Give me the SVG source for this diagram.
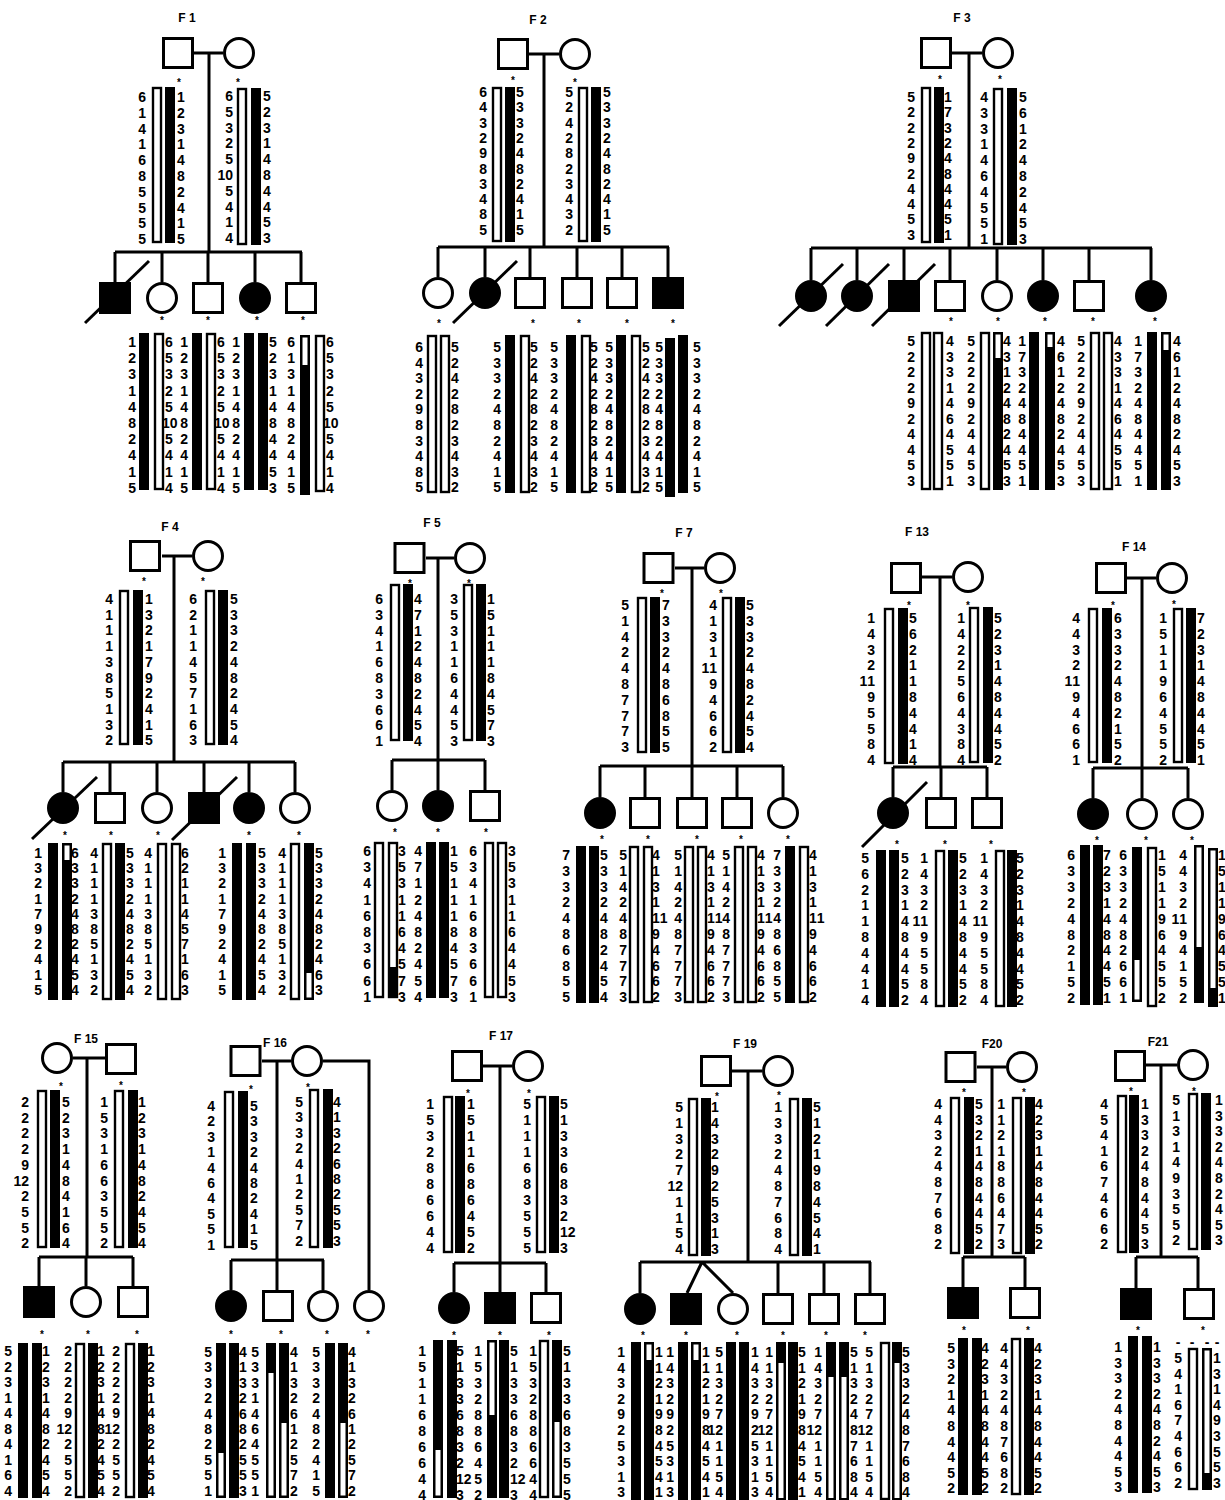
<svg xmlns="http://www.w3.org/2000/svg" width="1225" height="1500" viewBox="0 0 1225 1500">
<style>
text{font-family:"Liberation Sans",Arial,Helvetica,sans-serif;font-weight:bold;font-size:14px;fill:#000}
.e{text-anchor:end}
.t{text-anchor:middle;font-size:12px}
.ts{font-size:12px}
.k{text-anchor:middle;font-size:10px}
.m{text-anchor:middle}
.o{fill:#fff;stroke:#000;stroke-width:2.4}
.f{fill:#000}
.w{fill:#fff}
.s{fill:#fff;stroke:#000;stroke-width:3}
.a{fill:#000;stroke:#000;stroke-width:3}
.l{fill:none;stroke:#000;stroke-width:3}
</style>
<rect width="1225" height="1500" fill="#fff"/>
<g id="connectors">
<path class="l" d="M194 53H223M209 53V252M115 252H302M115 252V282M162 252V282M208 252V282M255 252V282M301 252V282"/>
<path class="l" d="M529 54H559M544 54V247M438 247H669M438 247V277M485 247V277M530 247V277M577 247V277M622 247V277M668 247V277"/>
<path class="l" d="M952 53H982M969 53V248M811 248H1152M811 248V280M857 248V280M904 248V280M950 248V280M997 248V280M1043 248V280M1089 248V280M1151 248V280"/>
<path class="l" d="M162 556H192M174 556V762M63 762H295M63 762V792M110 762V792M157 762V792M204 762V792M249 762V792M295 762V792"/>
<path class="l" d="M426 558H454M438 558V760M392 760H485M392 760V790M438 760V790M485 760V790"/>
<path class="l" d="M675 568H704M692 568V766M600 766H783M600 766V797M645 766V797M692 766V797M737 766V797M783 766V797"/>
<path class="l" d="M922 577H952M940 577V767M893 767H987M893 767V797M941 767V797M987 767V797"/>
<path class="l" d="M1127 578H1156M1142 578V768M1093 768H1188M1093 768V798M1142 768V798M1188 768V798"/>
<path class="l" d="M73 1058H105M87 1058V1257M39 1257H133M39 1257V1286M86 1257V1286M133 1257V1286"/>
<path class="l" d="M262 1061H291M277 1061V1260M231 1260H324M231 1260V1290M277 1260V1290M323 1260V1290M323 1061H369V1290"/>
<path class="l" d="M483 1066H512M500 1066V1263M454 1263H546M454 1263V1292M500 1263V1292M546 1263V1292"/>
<path class="l" d="M732 1071H762M748 1071V1262M640 1262H871M640 1262V1293M702 1262L687 1293M702 1262L733 1293M778 1262V1293M824 1262V1293M870 1262V1293"/>
<path class="l" d="M977 1067H1006M992 1067V1257M963 1257H1025M963 1257V1287M1025 1257V1287"/>
<path class="l" d="M1146 1065H1177M1161 1065V1257M1136 1257H1198M1136 1257V1288M1198 1257V1288"/>
</g>

<g id="F1">
<text class="t" x="187" y="22">F 1</text>
<g id="F1-I1">
<rect class="s" x="163.5" y="38.5" width="29" height="29"/>
<text class="k" x="179" y="86">*</text>
<rect class="o" x="153" y="88" width="8" height="154"/>
<rect class="f" x="165" y="87" width="10" height="156"/>
<text class="e" x="146 146 146 146 146 146 146 146 146 146" y="102" dy="0 15.8 15.8 15.8 15.8 15.8 15.8 15.8 15.8 15.8">6141685555</text>
<text x="177 177 177 177 177 177 177 177 177 177" y="102" dy="0 15.8 15.8 15.8 15.8 15.8 15.8 15.8 15.8 15.8">1231482415</text>
</g>
<g id="F1-I2">
<circle class="s" cx="239" cy="53" r="14.5"/>
<text class="k" x="238" y="86">*</text>
<rect class="o" x="238" y="89" width="8" height="155"/>
<rect class="f" x="251" y="88" width="10" height="157"/>
<text class="e" x="233 233 233 233 233 225.2 233 233 233 233 233" y="101" dy="0 15.8 15.8 15.8 15.8 15.8 0 15.8 15.8 15.8 15.8">65325105414</text>
<text x="263 263 263 263 263 263 263 263 263 263" y="101" dy="0 15.8 15.8 15.8 15.8 15.8 15.8 15.8 15.8 15.8">5231484453</text>
</g>
<g id="F1-II1">
<rect class="a" x="100.5" y="283.5" width="29" height="29"/>
<path class="l" d="M85 323L149 261"/>
</g>
<g id="F1-II2">
<circle class="s" cx="162" cy="298" r="14.5"/>
<text class="k" x="162" y="324">*</text>
<rect class="f" x="139" y="333" width="10" height="157"/>
<rect class="o" x="155" y="334" width="8" height="155"/>
<text class="e" x="136 136 136 136 136 136 136 136 136 136" y="347" dy="0 16.2 16.2 16.2 16.2 16.2 16.2 16.2 16.2 16.2">1231482415</text>
<text x="165 165 165 165 165 162 169.8 165 165 165 165" y="347" dy="0 16.2 16.2 16.2 16.2 16.2 0 16.2 16.2 16.2 16.2">65325105414</text>
</g>
<g id="F1-II3">
<rect class="s" x="193.5" y="283.5" width="29" height="29"/>
<text class="k" x="208" y="324">*</text>
<rect class="f" x="192" y="333" width="10" height="157"/>
<rect class="o" x="207" y="334" width="8" height="155"/>
<text class="e" x="188 188 188 188 188 188 188 188 188 188" y="347" dy="0 16.2 16.2 16.2 16.2 16.2 16.2 16.2 16.2 16.2">1231482415</text>
<text x="217 217 217 217 217 214 221.8 217 217 217 217" y="347" dy="0 16.2 16.2 16.2 16.2 16.2 0 16.2 16.2 16.2 16.2">65325105414</text>
</g>
<g id="F1-II4">
<circle class="a" cx="255" cy="298" r="14.5"/>
<text class="k" x="257" y="324">*</text>
<rect class="f" x="244" y="333" width="10" height="157"/>
<rect class="f" x="258" y="333" width="10" height="157"/>
<text class="e" x="240 240 240 240 240 240 240 240 240 240" y="347" dy="0 16.2 16.2 16.2 16.2 16.2 16.2 16.2 16.2 16.2">1231482415</text>
<text x="269 269 269 269 269 269 269 269 269 269" y="347" dy="0 16.2 16.2 16.2 16.2 16.2 16.2 16.2 16.2 16.2">5231484453</text>
</g>
<g id="F1-II5">
<rect class="s" x="286.5" y="283.5" width="29" height="29"/>
<text class="k" x="303" y="324">*</text>
<rect class="f" x="300" y="335" width="10" height="160"/>
<rect class="w" x="302.5" y="337.5" width="5" height="27.5"/>
<rect class="o" x="316" y="336" width="8" height="155"/>
<text class="e" x="295 295 295 295 295 295 295 295 295 295" y="347" dy="0 16.2 16.2 16.2 16.2 16.2 16.2 16.2 16.2 16.2">6131482415</text>
<text x="326 326 326 326 326 323 330.8 326 326 326 326" y="347" dy="0 16.2 16.2 16.2 16.2 16.2 0 16.2 16.2 16.2 16.2">65325105414</text>
</g>
</g>

<g id="F2">
<text class="t" x="538" y="24">F 2</text>
<g id="F2-I1">
<rect class="s" x="498.5" y="39.5" width="29" height="29"/>
<text class="k" x="513" y="84">*</text>
<rect class="o" x="493" y="88" width="8" height="153"/>
<rect class="f" x="505" y="87" width="10" height="155"/>
<text class="e" x="487 487 487 487 487 487 487 487 487 487" y="97" dy="0 15.3 15.3 15.3 15.3 15.3 15.3 15.3 15.3 15.3">6432983485</text>
<text x="516 516 516 516 516 516 516 516 516 516" y="97" dy="0 15.3 15.3 15.3 15.3 15.3 15.3 15.3 15.3 15.3">5332482415</text>
</g>
<g id="F2-I2">
<circle class="s" cx="575" cy="54" r="14.5"/>
<text class="k" x="575" y="86">*</text>
<rect class="o" x="579" y="88" width="8" height="153"/>
<rect class="f" x="591" y="87" width="10" height="155"/>
<text class="e" x="573 573 573 573 573 573 573 573 573 573" y="97" dy="0 15.3 15.3 15.3 15.3 15.3 15.3 15.3 15.3 15.3">5242823432</text>
<text x="603 603 603 603 603 603 603 603 603 603" y="97" dy="0 15.3 15.3 15.3 15.3 15.3 15.3 15.3 15.3 15.3">5332482415</text>
</g>
<g id="F2-II1">
<circle class="s" cx="438" cy="293" r="14.5"/>
<text class="k" x="439" y="327">*</text>
<rect class="o" x="428" y="336" width="8" height="156"/>
<rect class="o" x="441" y="336" width="8" height="156"/>
<text class="e" x="423 423 423 423 423 423 423 423 423 423" y="352" dy="0 15.6 15.6 15.6 15.6 15.6 15.6 15.6 15.6 15.6">6432983485</text>
<text x="451 451 451 451 451 451 451 451 451 451" y="352" dy="0 15.6 15.6 15.6 15.6 15.6 15.6 15.6 15.6 15.6">5242823432</text>
</g>
<g id="F2-II2">
<circle class="a" cx="485" cy="293" r="14.5"/>
<path class="l" d="M453 323L517 261"/>
</g>
<g id="F2-II3">
<rect class="s" x="515.5" y="278.5" width="29" height="29"/>
<text class="k" x="533" y="327">*</text>
<rect class="f" x="505" y="335" width="10" height="158"/>
<rect class="o" x="521" y="336" width="8" height="156"/>
<text class="e" x="501 501 501 501 501 501 501 501 501 501" y="352" dy="0 15.6 15.6 15.6 15.6 15.6 15.6 15.6 15.6 15.6">5332482415</text>
<text x="530 530 530 530 530 530 530 530 530 530" y="352" dy="0 15.6 15.6 15.6 15.6 15.6 15.6 15.6 15.6 15.6">5242823432</text>
</g>
<g id="F2-II4">
<rect class="s" x="562.5" y="278.5" width="29" height="29"/>
<text class="k" x="579" y="327">*</text>
<rect class="f" x="566" y="335" width="10" height="158"/>
<rect class="o" x="582" y="336" width="8" height="156"/>
<text class="e" x="558 558 558 558 558 558 558 558 558 558" y="352" dy="0 15.6 15.6 15.6 15.6 15.6 15.6 15.6 15.6 15.6">5332482415</text>
<text x="590 590 590 590 590 590 590 590 590 590" y="352" dy="0 15.6 15.6 15.6 15.6 15.6 15.6 15.6 15.6 15.6">5242823432</text>
</g>
<g id="F2-II5">
<rect class="s" x="607.5" y="278.5" width="29" height="29"/>
<text class="k" x="627" y="327">*</text>
<rect class="f" x="616" y="335" width="10" height="158"/>
<rect class="o" x="632" y="336" width="8" height="156"/>
<text class="e" x="613 613 613 613 613 613 613 613 613 613" y="352" dy="0 15.6 15.6 15.6 15.6 15.6 15.6 15.6 15.6 15.6">5332482415</text>
<text x="642 642 642 642 642 642 642 642 642 642" y="352" dy="0 15.6 15.6 15.6 15.6 15.6 15.6 15.6 15.6 15.6">5242823432</text>
</g>
<g id="F2-II6">
<rect class="a" x="653.5" y="278.5" width="29" height="29"/>
<text class="k" x="673" y="327">*</text>
<rect class="f" x="665" y="338" width="10" height="159"/>
<rect class="f" x="678" y="335" width="10" height="158"/>
<text class="e" x="663 663 663 663 663 663 663 663 663 663" y="352" dy="0 15.6 15.6 15.6 15.6 15.6 15.6 15.6 15.6 15.6">5332482415</text>
<text x="693 693 693 693 693 693 693 693 693 693" y="352" dy="0 15.6 15.6 15.6 15.6 15.6 15.6 15.6 15.6 15.6">5332482415</text>
</g>
</g>

<g id="F3">
<text class="t" x="962" y="22">F 3</text>
<g id="F3-I1">
<rect class="s" x="921.5" y="38.5" width="29" height="29"/>
<text class="k" x="940" y="83">*</text>
<rect class="o" x="922" y="88" width="8" height="154"/>
<rect class="f" x="934" y="87" width="10" height="156"/>
<text class="e" x="915 915 915 915 915 915 915 915 915 915" y="102" dy="0 15.3 15.3 15.3 15.3 15.3 15.3 15.3 15.3 15.3">5222924453</text>
<text x="944 944 944 944 944 944 944 944 944 944" y="102" dy="0 15.3 15.3 15.3 15.3 15.3 15.3 15.3 15.3 15.3">1732484451</text>
</g>
<g id="F3-I2">
<circle class="s" cx="998" cy="53" r="14.5"/>
<text class="k" x="1000" y="83">*</text>
<rect class="o" x="994" y="89" width="8" height="155"/>
<rect class="f" x="1007" y="88" width="10" height="157"/>
<text class="e" x="988 988 988 988 988 988 988 988 988 988" y="102" dy="0 15.8 15.8 15.8 15.8 15.8 15.8 15.8 15.8 15.8">4331464551</text>
<text x="1019 1019 1019 1019 1019 1019 1019 1019 1019 1019" y="102" dy="0 15.8 15.8 15.8 15.8 15.8 15.8 15.8 15.8 15.8">5612482453</text>
</g>
<g id="F3-II1">
<circle class="a" cx="811" cy="296" r="14.5"/>
<path class="l" d="M779 326L843 264"/>
</g>
<g id="F3-II2">
<circle class="a" cx="857" cy="296" r="14.5"/>
<path class="l" d="M826 326L889 264"/>
</g>
<g id="F3-II3">
<rect class="a" x="889.5" y="281.5" width="29" height="29"/>
<path class="l" d="M872 326L935 264"/>
</g>
<g id="F3-II4">
<rect class="s" x="935.5" y="281.5" width="29" height="29"/>
<text class="k" x="951" y="325">*</text>
<rect class="o" x="922" y="333" width="8" height="156"/>
<rect class="o" x="934" y="333" width="8" height="156"/>
<text class="e" x="915 915 915 915 915 915 915 915 915 915" y="346" dy="0 15.5 15.5 15.5 15.5 15.5 15.5 15.5 15.5 15.5">5222924453</text>
<text x="946 946 946 946 946 946 946 946 946 946" y="346" dy="0 15.5 15.5 15.5 15.5 15.5 15.5 15.5 15.5 15.5">4331464551</text>
</g>
<g id="F3-II5">
<circle class="s" cx="997" cy="296" r="14.5"/>
<text class="k" x="998" y="325">*</text>
<rect class="o" x="981" y="333" width="8" height="156"/>
<rect class="f" x="993" y="332" width="10" height="158"/>
<rect class="w" x="995.5" y="334.5" width="5" height="23.5"/>
<text class="e" x="975 975 975 975 975 975 975 975 975 975" y="346" dy="0 15.5 15.5 15.5 15.5 15.5 15.5 15.5 15.5 15.5">5222924453</text>
<text x="1003 1003 1003 1003 1003 1003 1003 1003 1003 1003" y="346" dy="0 15.5 15.5 15.5 15.5 15.5 15.5 15.5 15.5 15.5">4312482453</text>
</g>
<g id="F3-II6">
<circle class="a" cx="1043" cy="296" r="14.5"/>
<text class="k" x="1045" y="325">*</text>
<rect class="f" x="1029" y="332" width="10" height="158"/>
<rect class="f" x="1045" y="332" width="10" height="158"/>
<rect class="w" x="1047.5" y="334.5" width="5" height="12.5"/>
<text class="e" x="1026 1026 1026 1026 1026 1026 1026 1026 1026 1026" y="346" dy="0 15.5 15.5 15.5 15.5 15.5 15.5 15.5 15.5 15.5">1732484451</text>
<text x="1057 1057 1057 1057 1057 1057 1057 1057 1057 1057" y="346" dy="0 15.5 15.5 15.5 15.5 15.5 15.5 15.5 15.5 15.5">4612482453</text>
</g>
<g id="F3-II7">
<rect class="s" x="1074.5" y="281.5" width="29" height="29"/>
<text class="k" x="1093" y="325">*</text>
<rect class="o" x="1091" y="333" width="8" height="156"/>
<rect class="o" x="1104" y="333" width="8" height="156"/>
<text class="e" x="1085 1085 1085 1085 1085 1085 1085 1085 1085 1085" y="346" dy="0 15.5 15.5 15.5 15.5 15.5 15.5 15.5 15.5 15.5">5222924453</text>
<text x="1114 1114 1114 1114 1114 1114 1114 1114 1114 1114" y="346" dy="0 15.5 15.5 15.5 15.5 15.5 15.5 15.5 15.5 15.5">4331464551</text>
</g>
<g id="F3-II8">
<circle class="a" cx="1151" cy="296" r="14.5"/>
<text class="k" x="1155" y="325">*</text>
<rect class="f" x="1147" y="332" width="10" height="158"/>
<rect class="f" x="1161" y="332" width="10" height="158"/>
<rect class="w" x="1163.5" y="334.5" width="5" height="15.5"/>
<text class="e" x="1142 1142 1142 1142 1142 1142 1142 1142 1142 1142" y="346" dy="0 15.5 15.5 15.5 15.5 15.5 15.5 15.5 15.5 15.5">1732484451</text>
<text x="1173 1173 1173 1173 1173 1173 1173 1173 1173 1173" y="346" dy="0 15.5 15.5 15.5 15.5 15.5 15.5 15.5 15.5 15.5">4612482453</text>
</g>
</g>

<g id="F4">
<text class="t" x="170" y="531">F 4</text>
<g id="F4-I1">
<rect class="s" x="130.5" y="541.5" width="29" height="29"/>
<text class="k" x="144" y="585">*</text>
<rect class="o" x="120" y="591" width="8" height="153"/>
<rect class="f" x="133" y="590" width="10" height="155"/>
<text class="e" x="113 113 113 113 113 113 113 113 113 113" y="604" dy="0 15.7 15.7 15.7 15.7 15.7 15.7 15.7 15.7 15.7">4111385132</text>
<text x="145 145 145 145 145 145 145 145 145 145" y="604" dy="0 15.7 15.7 15.7 15.7 15.7 15.7 15.7 15.7 15.7">1321792415</text>
</g>
<g id="F4-I2">
<circle class="s" cx="208" cy="556" r="14.5"/>
<text class="k" x="203" y="585">*</text>
<rect class="o" x="206" y="591" width="8" height="153"/>
<rect class="f" x="218" y="590" width="10" height="155"/>
<text class="e" x="197 197 197 197 197 197 197 197 197 197" y="604" dy="0 15.7 15.7 15.7 15.7 15.7 15.7 15.7 15.7 15.7">6211457163</text>
<text x="230 230 230 230 230 230 230 230 230 230" y="604" dy="0 15.7 15.7 15.7 15.7 15.7 15.7 15.7 15.7 15.7">5332482454</text>
</g>
<g id="F4-II1">
<circle class="a" cx="63" cy="808" r="14.5"/>
<path class="l" d="M32 839L97 777"/>
<text class="k" x="65" y="839">*</text>
<rect class="f" x="48" y="843" width="10" height="157"/>
<rect class="f" x="62" y="843" width="10" height="157"/>
<rect class="w" x="64.5" y="845.5" width="5" height="14.5"/>
<text class="e" x="42 42 42 42 42 42 42 42 42 42" y="858" dy="0 15.2 15.2 15.2 15.2 15.2 15.2 15.2 15.2 15.2">1321792415</text>
<text x="71 71 71 71 71 71 71 71 71 71" y="858" dy="0 15.2 15.2 15.2 15.2 15.2 15.2 15.2 15.2 15.2">6332482454</text>
</g>
<g id="F4-II2">
<rect class="s" x="95.5" y="793.5" width="29" height="29"/>
<text class="k" x="111" y="839">*</text>
<rect class="o" x="103" y="844" width="8" height="155"/>
<rect class="f" x="115" y="843" width="10" height="157"/>
<text class="e" x="98 98 98 98 98 98 98 98 98 98" y="858" dy="0 15.2 15.2 15.2 15.2 15.2 15.2 15.2 15.2 15.2">4111385132</text>
<text x="126 126 126 126 126 126 126 126 126 126" y="858" dy="0 15.2 15.2 15.2 15.2 15.2 15.2 15.2 15.2 15.2">5332482454</text>
</g>
<g id="F4-II3">
<circle class="s" cx="157" cy="808" r="14.5"/>
<text class="k" x="158" y="839">*</text>
<rect class="o" x="158" y="844" width="8" height="155"/>
<rect class="o" x="172" y="844" width="8" height="155"/>
<text class="e" x="152 152 152 152 152 152 152 152 152 152" y="858" dy="0 15.2 15.2 15.2 15.2 15.2 15.2 15.2 15.2 15.2">4111385132</text>
<text x="181 181 181 181 181 181 181 181 181 181" y="858" dy="0 15.2 15.2 15.2 15.2 15.2 15.2 15.2 15.2 15.2">6211457163</text>
</g>
<g id="F4-II4">
<rect class="a" x="189.5" y="793.5" width="29" height="29"/>
<path class="l" d="M172 840L237 777"/>
</g>
<g id="F4-II5">
<circle class="a" cx="249" cy="808" r="14.5"/>
<text class="k" x="249" y="839">*</text>
<rect class="f" x="232" y="843" width="10" height="157"/>
<rect class="f" x="246" y="843" width="10" height="157"/>
<text class="e" x="226 226 226 226 226 226 226 226 226 226" y="858" dy="0 15.2 15.2 15.2 15.2 15.2 15.2 15.2 15.2 15.2">1321792415</text>
<text x="258 258 258 258 258 258 258 258 258 258" y="858" dy="0 15.2 15.2 15.2 15.2 15.2 15.2 15.2 15.2 15.2">5332482454</text>
</g>
<g id="F4-II6">
<circle class="s" cx="295" cy="808" r="14.5"/>
<text class="k" x="299" y="839">*</text>
<rect class="o" x="291" y="844" width="8" height="155"/>
<rect class="f" x="304" y="843" width="10" height="157"/>
<rect class="w" x="306.5" y="973" width="5" height="24.5"/>
<text class="e" x="286 286 286 286 286 286 286 286 286 286" y="858" dy="0 15.2 15.2 15.2 15.2 15.2 15.2 15.2 15.2 15.2">4111385132</text>
<text x="315 315 315 315 315 315 315 315 315 315" y="858" dy="0 15.2 15.2 15.2 15.2 15.2 15.2 15.2 15.2 15.2">5332482463</text>
</g>
</g>

<g id="F5">
<text class="t" x="432" y="527">F 5</text>
<g id="F5-I1">
<rect class="s" x="395" y="543.5" width="29" height="29"/>
<text class="k" x="410" y="587">*</text>
<rect class="o" x="391" y="585" width="8" height="155"/>
<rect class="f" x="403" y="584" width="10" height="157"/>
<text class="e" x="383 383 383 383 383 383 383 383 383 383" y="604" dy="0 15.8 15.8 15.8 15.8 15.8 15.8 15.8 15.8 15.8">6341683661</text>
<text x="414 414 414 414 414 414 414 414 414 414" y="604" dy="0 15.8 15.8 15.8 15.8 15.8 15.8 15.8 15.8 15.8">4712482454</text>
</g>
<g id="F5-I2">
<circle class="s" cx="470" cy="558" r="14.5"/>
<text class="k" x="469" y="587">*</text>
<rect class="o" x="464" y="585" width="8" height="155"/>
<rect class="f" x="476" y="584" width="10" height="157"/>
<text class="e" x="458 458 458 458 458 458 458 458 458 458" y="604" dy="0 15.8 15.8 15.8 15.8 15.8 15.8 15.8 15.8 15.8">3531164453</text>
<text x="487 487 487 487 487 487 487 487 487 487" y="604" dy="0 15.8 15.8 15.8 15.8 15.8 15.8 15.8 15.8 15.8">1511184573</text>
</g>
<g id="F5-II1">
<circle class="s" cx="392" cy="806" r="14.5"/>
<text class="k" x="395" y="836">*</text>
<rect class="o" x="375" y="843" width="8" height="154"/>
<rect class="o" x="389" y="843" width="8" height="154"/>
<rect class="f" x="388" y="967" width="10" height="31"/>
<text class="e" x="371 371 371 371 371 371 371 371 371 371" y="856" dy="0 16.2 16.2 16.2 16.2 16.2 16.2 16.2 16.2 16.2">6341683661</text>
<text x="398 398 398 398 398 398 398 398 398 398" y="856" dy="0 16.2 16.2 16.2 16.2 16.2 16.2 16.2 16.2 16.2">3531164573</text>
</g>
<g id="F5-II2">
<circle class="a" cx="438" cy="806" r="14.5"/>
<text class="k" x="438" y="836">*</text>
<rect class="f" x="426" y="842" width="10" height="156"/>
<rect class="f" x="439" y="842" width="10" height="156"/>
<text class="e" x="422 422 422 422 422 422 422 422 422 422" y="856" dy="0 16.2 16.2 16.2 16.2 16.2 16.2 16.2 16.2 16.2">4712482454</text>
<text x="450 450 450 450 450 450 450 450 450 450" y="856" dy="0 16.2 16.2 16.2 16.2 16.2 16.2 16.2 16.2 16.2">1511184573</text>
</g>
<g id="F5-II3">
<rect class="s" x="470.5" y="791.5" width="29" height="29"/>
<text class="k" x="486" y="836">*</text>
<rect class="o" x="485" y="843" width="8" height="154"/>
<rect class="o" x="498" y="843" width="8" height="154"/>
<text class="e" x="477 477 477 477 477 477 477 477 477 477" y="856" dy="0 16.2 16.2 16.2 16.2 16.2 16.2 16.2 16.2 16.2">6341683661</text>
<text x="508 508 508 508 508 508 508 508 508 508" y="856" dy="0 16.2 16.2 16.2 16.2 16.2 16.2 16.2 16.2 16.2">3531164453</text>
</g>
</g>

<g id="F7">
<text class="t" x="684" y="537">F 7</text>
<g id="F7-I1">
<rect class="s" x="644" y="553.5" width="29" height="29"/>
<text class="k" x="662" y="597">*</text>
<rect class="o" x="638" y="598" width="8" height="154"/>
<rect class="f" x="650" y="597" width="10" height="156"/>
<text class="e" x="629 629 629 629 629 629 629 629 629 629" y="610" dy="0 15.8 15.8 15.8 15.8 15.8 15.8 15.8 15.8 15.8">5142487773</text>
<text x="662 662 662 662 662 662 662 662 662 662" y="610" dy="0 15.8 15.8 15.8 15.8 15.8 15.8 15.8 15.8 15.8">7332486855</text>
</g>
<g id="F7-I2">
<circle class="s" cx="720" cy="568" r="14.5"/>
<text class="k" x="721" y="597">*</text>
<rect class="o" x="723" y="598" width="8" height="154"/>
<rect class="f" x="735" y="597" width="10" height="156"/>
<text class="e" x="717 717 717 717 709.2 717 717 717 717 717 717" y="610" dy="0 15.8 15.8 15.8 15.8 0 15.8 15.8 15.8 15.8 15.8">41311194662</text>
<text x="746 746 746 746 746 746 746 746 746 746" y="610" dy="0 15.8 15.8 15.8 15.8 15.8 15.8 15.8 15.8 15.8">5332482454</text>
</g>
<g id="F7-II1">
<circle class="a" cx="600" cy="813" r="14.5"/>
<text class="k" x="602" y="843">*</text>
<rect class="f" x="576" y="846" width="10" height="157"/>
<rect class="f" x="589" y="846" width="10" height="157"/>
<text class="e" x="570 570 570 570 570 570 570 570 570 570" y="860" dy="0 15.8 15.8 15.8 15.8 15.8 15.8 15.8 15.8 15.8">7332486855</text>
<text x="600 600 600 600 600 600 600 600 600 600" y="860" dy="0 15.8 15.8 15.8 15.8 15.8 15.8 15.8 15.8 15.8">5332482454</text>
</g>
<g id="F7-II2">
<rect class="s" x="630.5" y="798.5" width="29" height="29"/>
<text class="k" x="648" y="843">*</text>
<rect class="o" x="630" y="847" width="8" height="155"/>
<rect class="o" x="644" y="847" width="8" height="155"/>
<text class="e" x="627 627 627 627 627 627 627 627 627 627" y="860" dy="0 15.8 15.8 15.8 15.8 15.8 15.8 15.8 15.8 15.8">5142487773</text>
<text x="652 652 652 652 652 659.8 652 652 652 652 652" y="860" dy="0 15.8 15.8 15.8 15.8 0 15.8 15.8 15.8 15.8 15.8">41311194662</text>
</g>
<g id="F7-II3">
<rect class="s" x="677.5" y="798.5" width="29" height="29"/>
<text class="k" x="697" y="843">*</text>
<rect class="o" x="685" y="847" width="8" height="155"/>
<rect class="o" x="698" y="847" width="8" height="155"/>
<text class="e" x="682 682 682 682 682 682 682 682 682 682" y="860" dy="0 15.8 15.8 15.8 15.8 15.8 15.8 15.8 15.8 15.8">5142487773</text>
<text x="707 707 707 707 707 714.8 707 707 707 707 707" y="860" dy="0 15.8 15.8 15.8 15.8 0 15.8 15.8 15.8 15.8 15.8">41311194662</text>
</g>
<g id="F7-II4">
<rect class="s" x="722.5" y="798.5" width="29" height="29"/>
<text class="k" x="741" y="843">*</text>
<rect class="o" x="735" y="847" width="8" height="155"/>
<rect class="o" x="748" y="847" width="8" height="155"/>
<text class="e" x="730 730 730 730 730 730 730 730 730 730" y="860" dy="0 15.8 15.8 15.8 15.8 15.8 15.8 15.8 15.8 15.8">5142487773</text>
<text x="757 757 757 757 757 764.8 757 757 757 757 757" y="860" dy="0 15.8 15.8 15.8 15.8 0 15.8 15.8 15.8 15.8 15.8">41311194662</text>
</g>
<g id="F7-II5">
<circle class="s" cx="783" cy="813" r="14.5"/>
<text class="k" x="788" y="843">*</text>
<rect class="f" x="785" y="846" width="10" height="157"/>
<rect class="o" x="800" y="847" width="8" height="155"/>
<text class="e" x="781 781 781 781 781 781 781 781 781 781" y="860" dy="0 15.8 15.8 15.8 15.8 15.8 15.8 15.8 15.8 15.8">7332486855</text>
<text x="809 809 809 809 809 816.8 809 809 809 809 809" y="860" dy="0 15.8 15.8 15.8 15.8 0 15.8 15.8 15.8 15.8 15.8">41311194662</text>
</g>
</g>

<g id="F13">
<text class="t" x="917" y="536">F 13</text>
<g id="F13-I1">
<rect class="s" x="891.5" y="563.5" width="29" height="29"/>
<text class="k" x="909" y="609">*</text>
<rect class="o" x="885" y="609" width="8" height="154"/>
<rect class="f" x="898" y="608" width="10" height="156"/>
<text class="e" x="875 875 875 875 867.2 875 875 875 875 875 875" y="623" dy="0 15.8 15.8 15.8 15.8 0 15.8 15.8 15.8 15.8 15.8">14321195584</text>
<text x="909 909 909 909 909 909 909 909 909 909" y="623" dy="0 15.8 15.8 15.8 15.8 15.8 15.8 15.8 15.8 15.8">5621184414</text>
</g>
<g id="F13-I2">
<circle class="s" cx="968" cy="577" r="14.5"/>
<text class="k" x="968" y="609">*</text>
<rect class="o" x="970" y="608" width="8" height="154"/>
<rect class="f" x="983" y="607" width="10" height="156"/>
<text class="e" x="965 965 965 965 965 965 965 965 965 965" y="623" dy="0 15.8 15.8 15.8 15.8 15.8 15.8 15.8 15.8 15.8">1422564384</text>
<text x="994 994 994 994 994 994 994 994 994 994" y="623" dy="0 15.8 15.8 15.8 15.8 15.8 15.8 15.8 15.8 15.8">5231484452</text>
</g>
<g id="F13-II1">
<circle class="a" cx="893" cy="813" r="14.5"/>
<path class="l" d="M862 847L927 782"/>
<text class="k" x="897" y="848">*</text>
<rect class="f" x="876" y="850" width="10" height="157"/>
<rect class="f" x="889" y="850" width="10" height="157"/>
<text class="e" x="869 869 869 869 869 869 869 869 869 869" y="863" dy="0 15.8 15.8 15.8 15.8 15.8 15.8 15.8 15.8 15.8">5621184414</text>
<text x="901 901 901 901 901 901 901 901 901 901" y="863" dy="0 15.8 15.8 15.8 15.8 15.8 15.8 15.8 15.8 15.8">5231484452</text>
</g>
<g id="F13-II2">
<rect class="s" x="926.5" y="798.5" width="29" height="29"/>
<text class="k" x="945" y="848">*</text>
<rect class="o" x="936" y="851" width="8" height="155"/>
<rect class="f" x="948" y="850" width="10" height="157"/>
<text class="e" x="928 928 928 928 920.2 928 928 928 928 928 928" y="863" dy="0 15.8 15.8 15.8 15.8 0 15.8 15.8 15.8 15.8 15.8">14321195584</text>
<text x="959 959 959 959 959 959 959 959 959 959" y="863" dy="0 15.8 15.8 15.8 15.8 15.8 15.8 15.8 15.8 15.8">5231484452</text>
</g>
<g id="F13-II3">
<rect class="s" x="972.5" y="798.5" width="29" height="29"/>
<text class="k" x="991" y="848">*</text>
<rect class="o" x="996" y="851" width="8" height="155"/>
<rect class="f" x="1007" y="850" width="10" height="157"/>
<text class="e" x="988 988 988 988 980.2 988 988 988 988 988 988" y="863" dy="0 15.8 15.8 15.8 15.8 0 15.8 15.8 15.8 15.8 15.8">14321195584</text>
<text x="1016 1016 1016 1016 1016 1016 1016 1016 1016 1016" y="863" dy="0 15.8 15.8 15.8 15.8 15.8 15.8 15.8 15.8 15.8">5231484452</text>
</g>
</g>

<g id="F14">
<text class="t" x="1134" y="551">F 14</text>
<g id="F14-I1">
<rect class="s" x="1096.5" y="563.5" width="29" height="29"/>
<text class="k" x="1113" y="609">*</text>
<rect class="o" x="1089" y="609" width="8" height="153"/>
<rect class="f" x="1102" y="608" width="10" height="155"/>
<text class="e" x="1080 1080 1080 1080 1072.2 1080 1080 1080 1080 1080 1080" y="623" dy="0 15.8 15.8 15.8 15.8 0 15.8 15.8 15.8 15.8 15.8">44321194661</text>
<text x="1114 1114 1114 1114 1114 1114 1114 1114 1114 1114" y="623" dy="0 15.8 15.8 15.8 15.8 15.8 15.8 15.8 15.8 15.8">6332482152</text>
</g>
<g id="F14-I2">
<circle class="s" cx="1172" cy="578" r="14.5"/>
<text class="k" x="1174" y="608">*</text>
<rect class="o" x="1174" y="609" width="8" height="153"/>
<rect class="f" x="1186" y="608" width="10" height="155"/>
<text class="e" x="1167 1167 1167 1167 1167 1167 1167 1167 1167 1167" y="623" dy="0 15.8 15.8 15.8 15.8 15.8 15.8 15.8 15.8 15.8">1511964552</text>
<text x="1197 1197 1197 1197 1197 1197 1197 1197 1197 1197" y="623" dy="0 15.8 15.8 15.8 15.8 15.8 15.8 15.8 15.8 15.8">7231484451</text>
</g>
<g id="F14-II1">
<circle class="a" cx="1093" cy="814" r="14.5"/>
<text class="k" x="1097" y="844">*</text>
<rect class="f" x="1080" y="845" width="10" height="160"/>
<rect class="f" x="1093" y="845" width="10" height="160"/>
<text class="e" x="1075 1075 1075 1075 1075 1075 1075 1075 1075 1075" y="860" dy="0 15.9 15.9 15.9 15.9 15.9 15.9 15.9 15.9 15.9">6332482152</text>
<text x="1103 1103 1103 1103 1103 1103 1103 1103 1103 1103" y="860" dy="0 15.9 15.9 15.9 15.9 15.9 15.9 15.9 15.9 15.9">7231484451</text>
</g>
<g id="F14-II2">
<circle class="s" cx="1142" cy="814" r="14.5"/>
<text class="k" x="1146" y="844">*</text>
<rect class="f" x="1132" y="847" width="10" height="155"/>
<rect class="w" x="1134.5" y="960" width="5" height="39.5"/>
<rect class="o" x="1148" y="848" width="8" height="158"/>
<text class="e" x="1127 1127 1127 1127 1127 1127 1127 1127 1127 1127" y="860" dy="0 15.9 15.9 15.9 15.9 15.9 15.9 15.9 15.9 15.9">6332482661</text>
<text x="1158 1158 1158 1158 1158 1158 1158 1158 1158 1158" y="860" dy="0 15.9 15.9 15.9 15.9 15.9 15.9 15.9 15.9 15.9">1511964552</text>
</g>
<g id="F14-II3">
<circle class="s" cx="1188" cy="814" r="14.5"/>
<text class="k" x="1192" y="844">*</text>
<rect class="f" x="1194" y="845" width="10" height="158"/>
<rect class="w" x="1196.5" y="847.5" width="5" height="99.5"/>
<rect class="f" x="1208" y="848" width="10" height="159"/>
<rect class="w" x="1210.5" y="850.5" width="5" height="137.5"/>
<text class="e" x="1187 1187 1187 1187 1179.2 1187 1187 1187 1187 1187 1187" y="860" dy="0 15.9 15.9 15.9 15.9 0 15.9 15.9 15.9 15.9 15.9">44321194152</text>
<text x="1218 1218 1218 1218 1218 1218 1218 1218 1218 1218" y="860" dy="0 15.9 15.9 15.9 15.9 15.9 15.9 15.9 15.9 15.9">1511964551</text>
</g>
</g>

<g id="F15">
<text class="ts" x="74" y="1043">F 15</text>
<g id="F15-I1">
<circle class="s" cx="57" cy="1058" r="14.5"/>
<text class="k" x="61" y="1090">*</text>
<rect class="o" x="38" y="1091" width="8" height="156"/>
<rect class="f" x="50" y="1090" width="10" height="158"/>
<text class="e" x="29 29 29 29 29 21.2 29 29 29 29 29" y="1107" dy="0 15.7 15.7 15.7 15.7 15.7 0 15.7 15.7 15.7 15.7">22229122552</text>
<text x="62 62 62 62 62 62 62 62 62 62" y="1107" dy="0 15.7 15.7 15.7 15.7 15.7 15.7 15.7 15.7 15.7">5231484164</text>
</g>
<g id="F15-I2">
<rect class="s" x="106.5" y="1044.5" width="29" height="29"/>
<text class="k" x="121" y="1089">*</text>
<rect class="o" x="115" y="1091" width="8" height="156"/>
<rect class="f" x="128" y="1090" width="10" height="158"/>
<text class="e" x="108 108 108 108 108 108 108 108 108 108" y="1107" dy="0 15.7 15.7 15.7 15.7 15.7 15.7 15.7 15.7 15.7">1531663552</text>
<text x="138 138 138 138 138 138 138 138 138 138" y="1107" dy="0 15.7 15.7 15.7 15.7 15.7 15.7 15.7 15.7 15.7">1231482454</text>
</g>
<g id="F15-II1">
<rect class="a" x="24.5" y="1287.5" width="29" height="29"/>
<text class="k" x="42" y="1338">*</text>
<rect class="f" x="18" y="1343" width="10" height="155"/>
<rect class="f" x="32" y="1343" width="10" height="155"/>
<text class="e" x="12 12 12 12 12 12 12 12 12 12" y="1356" dy="0 15.5 15.5 15.5 15.5 15.5 15.5 15.5 15.5 15.5">5231484164</text>
<text x="42 42 42 42 42 42 42 42 42 42" y="1356" dy="0 15.5 15.5 15.5 15.5 15.5 15.5 15.5 15.5 15.5">1231482454</text>
</g>
<g id="F15-II2">
<circle class="s" cx="86" cy="1302" r="14.5"/>
<text class="k" x="88" y="1338">*</text>
<rect class="o" x="76" y="1344" width="8" height="153"/>
<rect class="f" x="88" y="1343" width="10" height="155"/>
<text class="e" x="72 72 72 72 72 64.2 72 72 72 72 72" y="1356" dy="0 15.5 15.5 15.5 15.5 15.5 0 15.5 15.5 15.5 15.5">22229122552</text>
<text x="97 97 97 97 97 97 97 97 97 97" y="1356" dy="0 15.5 15.5 15.5 15.5 15.5 15.5 15.5 15.5 15.5">1231482454</text>
</g>
<g id="F15-II3">
<rect class="s" x="118.5" y="1287.5" width="29" height="29"/>
<text class="k" x="137" y="1338">*</text>
<rect class="o" x="126" y="1344" width="8" height="153"/>
<rect class="f" x="138" y="1343" width="10" height="155"/>
<text class="e" x="120 120 120 120 120 112.2 120 120 120 120 120" y="1356" dy="0 15.5 15.5 15.5 15.5 15.5 0 15.5 15.5 15.5 15.5">22229122552</text>
<text x="147 147 147 147 147 147 147 147 147 147" y="1356" dy="0 15.5 15.5 15.5 15.5 15.5 15.5 15.5 15.5 15.5">1231482454</text>
</g>
</g>

<g id="F16">
<text class="ts" x="263" y="1047">F 16</text>
<g id="F16-I1">
<rect class="s" x="231" y="1046.5" width="29" height="29"/>
<text class="k" x="251" y="1093">*</text>
<rect class="o" x="225" y="1092" width="8" height="155"/>
<rect class="f" x="238" y="1091" width="10" height="157"/>
<text class="e" x="215 215 215 215 215 215 215 215 215 215" y="1111" dy="0 15.4 15.4 15.4 15.4 15.4 15.4 15.4 15.4 15.4">4231464551</text>
<text x="250 250 250 250 250 250 250 250 250 250" y="1111" dy="0 15.4 15.4 15.4 15.4 15.4 15.4 15.4 15.4 15.4">5332482415</text>
</g>
<g id="F16-I2">
<circle class="s" cx="307" cy="1061" r="14.5"/>
<text class="k" x="308" y="1091">*</text>
<rect class="o" x="310" y="1090" width="8" height="157"/>
<rect class="f" x="323" y="1089" width="10" height="159"/>
<text class="e" x="303 303 303 303 303 303 303 303 303 303" y="1107" dy="0 15.4 15.4 15.4 15.4 15.4 15.4 15.4 15.4 15.4">5332412572</text>
<text x="333 333 333 333 333 333 333 333 333 333" y="1107" dy="0 15.4 15.4 15.4 15.4 15.4 15.4 15.4 15.4 15.4">4132682553</text>
</g>
<g id="F16-II1">
<circle class="a" cx="231" cy="1306" r="14.5"/>
<text class="k" x="231" y="1338">*</text>
<rect class="f" x="216" y="1343" width="10" height="155"/>
<rect class="w" x="218.5" y="1453" width="5" height="42.5"/>
<rect class="f" x="229" y="1343" width="10" height="155"/>
<text class="e" x="212 212 212 212 212 212 212 212 212 212" y="1357" dy="0 15.4 15.4 15.4 15.4 15.4 15.4 15.4 15.4 15.4">5332482551</text>
<text x="239 239 239 239 239 239 239 239 239 239" y="1357" dy="0 15.4 15.4 15.4 15.4 15.4 15.4 15.4 15.4 15.4">4132682553</text>
</g>
<g id="F16-II2">
<rect class="s" x="263.5" y="1291.5" width="29" height="29"/>
<text class="k" x="281" y="1338">*</text>
<rect class="f" x="266" y="1343" width="10" height="155"/>
<rect class="w" x="268.5" y="1373" width="5" height="122.5"/>
<rect class="f" x="279" y="1343" width="10" height="155"/>
<rect class="w" x="281.5" y="1423" width="5" height="72.5"/>
<text class="e" x="259 259 259 259 259 259 259 259 259 259" y="1357" dy="0 15.4 15.4 15.4 15.4 15.4 15.4 15.4 15.4 15.4">5331464551</text>
<text x="290 290 290 290 290 290 290 290 290 290" y="1357" dy="0 15.4 15.4 15.4 15.4 15.4 15.4 15.4 15.4 15.4">4132612572</text>
</g>
<g id="F16-II3">
<circle class="s" cx="323" cy="1306" r="14.5"/>
<text class="k" x="327" y="1338">*</text>
<rect class="f" x="325" y="1343" width="10" height="155"/>
<rect class="f" x="338" y="1343" width="10" height="155"/>
<rect class="w" x="340.5" y="1423" width="5" height="72.5"/>
<text class="e" x="320 320 320 320 320 320 320 320 320 320" y="1357" dy="0 15.4 15.4 15.4 15.4 15.4 15.4 15.4 15.4 15.4">5332482415</text>
<text x="348 348 348 348 348 348 348 348 348 348" y="1357" dy="0 15.4 15.4 15.4 15.4 15.4 15.4 15.4 15.4 15.4">4132612572</text>
</g>
<g id="F16-II4">
<circle class="s" cx="369" cy="1306" r="14.5"/>
<text class="k" x="368" y="1338">*</text>
</g>
</g>

<g id="F17">
<text class="t" x="501" y="1040">F 17</text>
<g id="F17-I1">
<rect class="s" x="452.5" y="1051.5" width="29" height="29"/>
<text class="k" x="468" y="1097">*</text>
<rect class="o" x="444" y="1097" width="8" height="155"/>
<rect class="f" x="455" y="1096" width="10" height="157"/>
<text class="e" x="434 434 434 434 434 434 434 434 434 434" y="1109" dy="0 16 16 16 16 16 16 16 16 16">1532886644</text>
<text x="467 467 467 467 467 467 467 467 467 467" y="1109" dy="0 16 16 16 16 16 16 16 16 16">1511686452</text>
</g>
<g id="F17-I2">
<circle class="s" cx="528" cy="1066" r="14.5"/>
<text class="k" x="529" y="1097">*</text>
<rect class="o" x="537" y="1097" width="8" height="155"/>
<rect class="f" x="549" y="1096" width="10" height="157"/>
<text class="e" x="531 531 531 531 531 531 531 531 531 531" y="1109" dy="0 16 16 16 16 16 16 16 16 16">5111683555</text>
<text x="560 560 560 560 560 560 560 560 560 567.8 560" y="1109" dy="0 16 16 16 16 16 16 16 16 0 16">51336832123</text>
</g>
<g id="F17-II1">
<circle class="a" cx="454" cy="1308" r="14.5"/>
<text class="k" x="454" y="1339">*</text>
<rect class="f" x="433" y="1340" width="10" height="158"/>
<rect class="w" x="435.5" y="1450" width="5" height="45.5"/>
<rect class="f" x="447" y="1340" width="10" height="158"/>
<text class="e" x="426 426 426 426 426 426 426 426 426 426" y="1356" dy="0 16 16 16 16 16 16 16 16 16">1511686644</text>
<text x="456 456 456 456 456 456 456 456 456 463.8 456" y="1356" dy="0 16 16 16 16 16 16 16 16 0 16">51336832123</text>
</g>
<g id="F17-II2">
<rect class="a" x="485.5" y="1293.5" width="29" height="29"/>
<text class="k" x="500" y="1339">*</text>
<rect class="f" x="487" y="1340" width="10" height="158"/>
<rect class="w" x="489.5" y="1342.5" width="5" height="72.5"/>
<rect class="f" x="499" y="1340" width="10" height="158"/>
<text class="e" x="482 482 482 482 482 482 482 482 482 482" y="1356" dy="0 16 16 16 16 16 16 16 16 16">1532886452</text>
<text x="510 510 510 510 510 510 510 510 510 517.8 510" y="1356" dy="0 16 16 16 16 16 16 16 16 0 16">51336832123</text>
</g>
<g id="F17-II3">
<rect class="s" x="531.5" y="1293.5" width="29" height="29"/>
<text class="k" x="549" y="1339">*</text>
<rect class="o" x="540" y="1341" width="8" height="156"/>
<rect class="f" x="552" y="1340" width="10" height="158"/>
<rect class="w" x="554.5" y="1422" width="5" height="73.5"/>
<text class="e" x="537 537 537 537 537 537 537 537 537 537" y="1356" dy="0 16 16 16 16 16 16 16 16 16">1532886644</text>
<text x="563 563 563 563 563 563 563 563 563 563" y="1356" dy="0 16 16 16 16 16 16 16 16 16">5133683555</text>
</g>
</g>

<g id="F19">
<text class="t" x="745" y="1048">F 19</text>
<g id="F19-I1">
<rect class="s" x="701.5" y="1056.5" width="29" height="29"/>
<text class="k" x="717" y="1100">*</text>
<rect class="o" x="689" y="1099" width="8" height="156"/>
<rect class="f" x="701" y="1098" width="10" height="158"/>
<text class="e" x="683 683 683 683 683 675.2 683 683 683 683 683" y="1112" dy="0 15.8 15.8 15.8 15.8 15.8 0 15.8 15.8 15.8 15.8">51327121154</text>
<text x="711 711 711 711 711 711 711 711 711 711" y="1112" dy="0 15.8 15.8 15.8 15.8 15.8 15.8 15.8 15.8 15.8">1432925313</text>
</g>
<g id="F19-I2">
<circle class="s" cx="778" cy="1071" r="14.5"/>
<text class="k" x="779" y="1099">*</text>
<rect class="o" x="790" y="1099" width="8" height="156"/>
<rect class="f" x="802" y="1098" width="10" height="158"/>
<text class="e" x="782 782 782 782 782 782 782 782 782 782" y="1112" dy="0 15.8 15.8 15.8 15.8 15.8 15.8 15.8 15.8 15.8">1332487684</text>
<text x="813 813 813 813 813 813 813 813 813 813" y="1112" dy="0 15.8 15.8 15.8 15.8 15.8 15.8 15.8 15.8 15.8">5121984541</text>
</g>
<g id="F19-II1">
<circle class="a" cx="640" cy="1309" r="14.5"/>
<text class="k" x="643" y="1339">*</text>
<rect class="f" x="631" y="1342" width="10" height="158"/>
<rect class="f" x="644" y="1342" width="10" height="158"/>
<rect class="w" x="646.5" y="1344.5" width="5" height="15.5"/>
<text class="e" x="625 625 625 625 625 625 625 625 625 625" y="1357" dy="0 15.6 15.6 15.6 15.6 15.6 15.6 15.6 15.6 15.6">1432925313</text>
<text x="655 655 655 655 655 655 655 655 655 655" y="1357" dy="0 15.6 15.6 15.6 15.6 15.6 15.6 15.6 15.6 15.6">1121984541</text>
</g>
<g id="F19-II2">
<rect class="a" x="671.5" y="1294.5" width="29" height="29"/>
<text class="k" x="686" y="1339">*</text>
<rect class="f" x="678" y="1342" width="10" height="158"/>
<rect class="f" x="691" y="1342" width="10" height="158"/>
<rect class="w" x="693.5" y="1344.5" width="5" height="15.5"/>
<text class="e" x="674 674 674 674 674 674 674 674 674 674" y="1357" dy="0 15.6 15.6 15.6 15.6 15.6 15.6 15.6 15.6 15.6">1432925313</text>
<text x="702 702 702 702 702 702 702 702 702 702" y="1357" dy="0 15.6 15.6 15.6 15.6 15.6 15.6 15.6 15.6 15.6">1121984541</text>
</g>
<g id="F19-II3">
<circle class="s" cx="733" cy="1309" r="14.5"/>
<text class="k" x="737" y="1339">*</text>
<rect class="f" x="726" y="1342" width="10" height="158"/>
<rect class="f" x="739" y="1342" width="10" height="158"/>
<text class="e" x="723 723 723 723 723 715.2 723 723 723 723 723" y="1357" dy="0 15.6 15.6 15.6 15.6 15.6 0 15.6 15.6 15.6 15.6">51327121154</text>
<text x="751 751 751 751 751 751 751 751 751 751" y="1357" dy="0 15.6 15.6 15.6 15.6 15.6 15.6 15.6 15.6 15.6">1432925313</text>
</g>
<g id="F19-II4">
<rect class="s" x="763.5" y="1294.5" width="29" height="29"/>
<text class="k" x="783" y="1339">*</text>
<rect class="f" x="776" y="1342" width="10" height="158"/>
<rect class="w" x="778.5" y="1363" width="5" height="135"/>
<rect class="f" x="788" y="1342" width="10" height="158"/>
<text class="e" x="773 773 773 773 773 765.2 773 773 773 773 773" y="1357" dy="0 15.6 15.6 15.6 15.6 15.6 0 15.6 15.6 15.6 15.6">11327121154</text>
<text x="798 798 798 798 798 798 798 798 798 798" y="1357" dy="0 15.6 15.6 15.6 15.6 15.6 15.6 15.6 15.6 15.6">5121984541</text>
</g>
<g id="F19-II5">
<rect class="s" x="809.5" y="1294.5" width="29" height="29"/>
<text class="k" x="826" y="1339">*</text>
<rect class="f" x="826" y="1342" width="10" height="158"/>
<rect class="w" x="828.5" y="1377" width="5" height="121"/>
<rect class="f" x="839" y="1342" width="10" height="158"/>
<rect class="w" x="841.5" y="1377" width="5" height="121"/>
<text class="e" x="822 822 822 822 822 814.2 822 822 822 822 822" y="1357" dy="0 15.6 15.6 15.6 15.6 15.6 0 15.6 15.6 15.6 15.6">14327121154</text>
<text x="850 850 850 850 850 850 850 850 850 850" y="1357" dy="0 15.6 15.6 15.6 15.6 15.6 15.6 15.6 15.6 15.6">5132487684</text>
</g>
<g id="F19-II6">
<rect class="s" x="855.5" y="1294.5" width="29" height="29"/>
<text class="k" x="865" y="1339">*</text>
<rect class="o" x="881" y="1343" width="8" height="156"/>
<rect class="f" x="892" y="1342" width="10" height="158"/>
<rect class="w" x="894.5" y="1363" width="5" height="135"/>
<text class="e" x="873 873 873 873 873 865.2 873 873 873 873 873" y="1357" dy="0 15.6 15.6 15.6 15.6 15.6 0 15.6 15.6 15.6 15.6">51327121154</text>
<text x="902 902 902 902 902 902 902 902 902 902" y="1357" dy="0 15.6 15.6 15.6 15.6 15.6 15.6 15.6 15.6 15.6">5332487684</text>
</g>
</g>

<g id="F20">
<text class="t" x="992" y="1048">F20</text>
<g id="F20-I1">
<rect class="s" x="946" y="1052.5" width="29" height="29"/>
<text class="k" x="964" y="1096">*</text>
<rect class="o" x="951" y="1098" width="8" height="155"/>
<rect class="f" x="964" y="1097" width="10" height="157"/>
<text class="e" x="942 942 942 942 942 942 942 942 942 942" y="1109" dy="0 15.6 15.6 15.6 15.6 15.6 15.6 15.6 15.6 15.6">4432487682</text>
<text x="975 975 975 975 975 975 975 975 975 975" y="1109" dy="0 15.6 15.6 15.6 15.6 15.6 15.6 15.6 15.6 15.6">5321484452</text>
</g>
<g id="F20-I2">
<circle class="s" cx="1022" cy="1067" r="14.5"/>
<text class="k" x="1024" y="1096">*</text>
<rect class="o" x="1013" y="1098" width="8" height="155"/>
<rect class="f" x="1025" y="1097" width="10" height="157"/>
<text class="e" x="1005 1005 1005 1005 1005 1005 1005 1005 1005 1005" y="1109" dy="0 15.6 15.6 15.6 15.6 15.6 15.6 15.6 15.6 15.6">1121886473</text>
<text x="1035 1035 1035 1035 1035 1035 1035 1035 1035 1035" y="1109" dy="0 15.6 15.6 15.6 15.6 15.6 15.6 15.6 15.6 15.6">4231484452</text>
</g>
<g id="F20-II1">
<rect class="a" x="948.5" y="1288.5" width="29" height="29"/>
<text class="k" x="964" y="1334">*</text>
<rect class="f" x="958" y="1338" width="10" height="157"/>
<rect class="f" x="972" y="1338" width="10" height="157"/>
<text class="e" x="955 955 955 955 955 955 955 955 955 955" y="1353" dy="0 15.6 15.6 15.6 15.6 15.6 15.6 15.6 15.6 15.6">5321484452</text>
<text x="981 981 981 981 981 981 981 981 981 981" y="1353" dy="0 15.6 15.6 15.6 15.6 15.6 15.6 15.6 15.6 15.6">4231484452</text>
</g>
<g id="F20-II2">
<rect class="s" x="1010.5" y="1288.5" width="29" height="29"/>
<text class="k" x="1028" y="1334">*</text>
<rect class="o" x="1012" y="1339" width="8" height="155"/>
<rect class="f" x="1024" y="1338" width="10" height="157"/>
<text class="e" x="1008 1008 1008 1008 1008 1008 1008 1008 1008 1008" y="1353" dy="0 15.6 15.6 15.6 15.6 15.6 15.6 15.6 15.6 15.6">4432487682</text>
<text x="1034 1034 1034 1034 1034 1034 1034 1034 1034 1034" y="1353" dy="0 15.6 15.6 15.6 15.6 15.6 15.6 15.6 15.6 15.6">4231484452</text>
</g>
</g>

<g id="F21">
<text class="t" x="1158" y="1046">F21</text>
<g id="F21-I1">
<rect class="s" x="1115.5" y="1051.5" width="29" height="29"/>
<text class="k" x="1131" y="1095">*</text>
<rect class="o" x="1118" y="1096" width="8" height="156"/>
<rect class="f" x="1129" y="1095" width="10" height="158"/>
<text class="e" x="1108 1108 1108 1108 1108 1108 1108 1108 1108 1108" y="1109" dy="0 15.6 15.6 15.6 15.6 15.6 15.6 15.6 15.6 15.6">4541674662</text>
<text x="1141 1141 1141 1141 1141 1141 1141 1141 1141 1141" y="1109" dy="0 15.6 15.6 15.6 15.6 15.6 15.6 15.6 15.6 15.6">1332484453</text>
</g>
<g id="F21-I2">
<circle class="s" cx="1193" cy="1065" r="14.5"/>
<text class="k" x="1194" y="1095">*</text>
<rect class="o" x="1189" y="1094" width="8" height="155"/>
<rect class="f" x="1201" y="1093" width="10" height="157"/>
<text class="e" x="1180 1180 1180 1180 1180 1180 1180 1180 1180 1180" y="1105" dy="0 15.6 15.6 15.6 15.6 15.6 15.6 15.6 15.6 15.6">5131493552</text>
<text x="1215 1215 1215 1215 1215 1215 1215 1215 1215 1215" y="1105" dy="0 15.6 15.6 15.6 15.6 15.6 15.6 15.6 15.6 15.6">1332482453</text>
</g>
<g id="F21-II1">
<rect class="a" x="1121.5" y="1289.5" width="29" height="29"/>
<text class="k" x="1138" y="1334">*</text>
<rect class="f" x="1128" y="1336" width="10" height="157"/>
<rect class="f" x="1142" y="1336" width="10" height="157"/>
<text class="e" x="1122 1122 1122 1122 1122 1122 1122 1122 1122 1122" y="1352" dy="0 15.6 15.6 15.6 15.6 15.6 15.6 15.6 15.6 15.6">1332484453</text>
<text x="1153 1153 1153 1153 1153 1153 1153 1153 1153 1153" y="1352" dy="0 15.6 15.6 15.6 15.6 15.6 15.6 15.6 15.6 15.6">1332482453</text>
</g>
<g id="F21-II2">
<rect class="s" x="1184.5" y="1289.5" width="29" height="29"/>
<text class="k" x="1203" y="1334">*</text>
<text class="m" x="1178 1192 1207 1217" y="1347">----</text>
<rect class="o" x="1189" y="1349" width="8" height="140"/>
<rect class="f" x="1202" y="1348" width="10" height="142"/>
<rect class="w" x="1204.5" y="1350.5" width="5" height="122.5"/>
<text class="e" x="1182 1182 1182 1182 1182 1182 1182 1182 1182" y="1363" dy="0 15.6 15.6 15.6 15.6 15.6 15.6 15.6 15.6">541674662</text>
<text x="1213 1213 1213 1213 1213 1213 1213 1213 1213" y="1363" dy="0 15.6 15.6 15.6 15.6 15.6 15.6 15.6 15.6">131493553</text>
</g>
</g>
</svg>
